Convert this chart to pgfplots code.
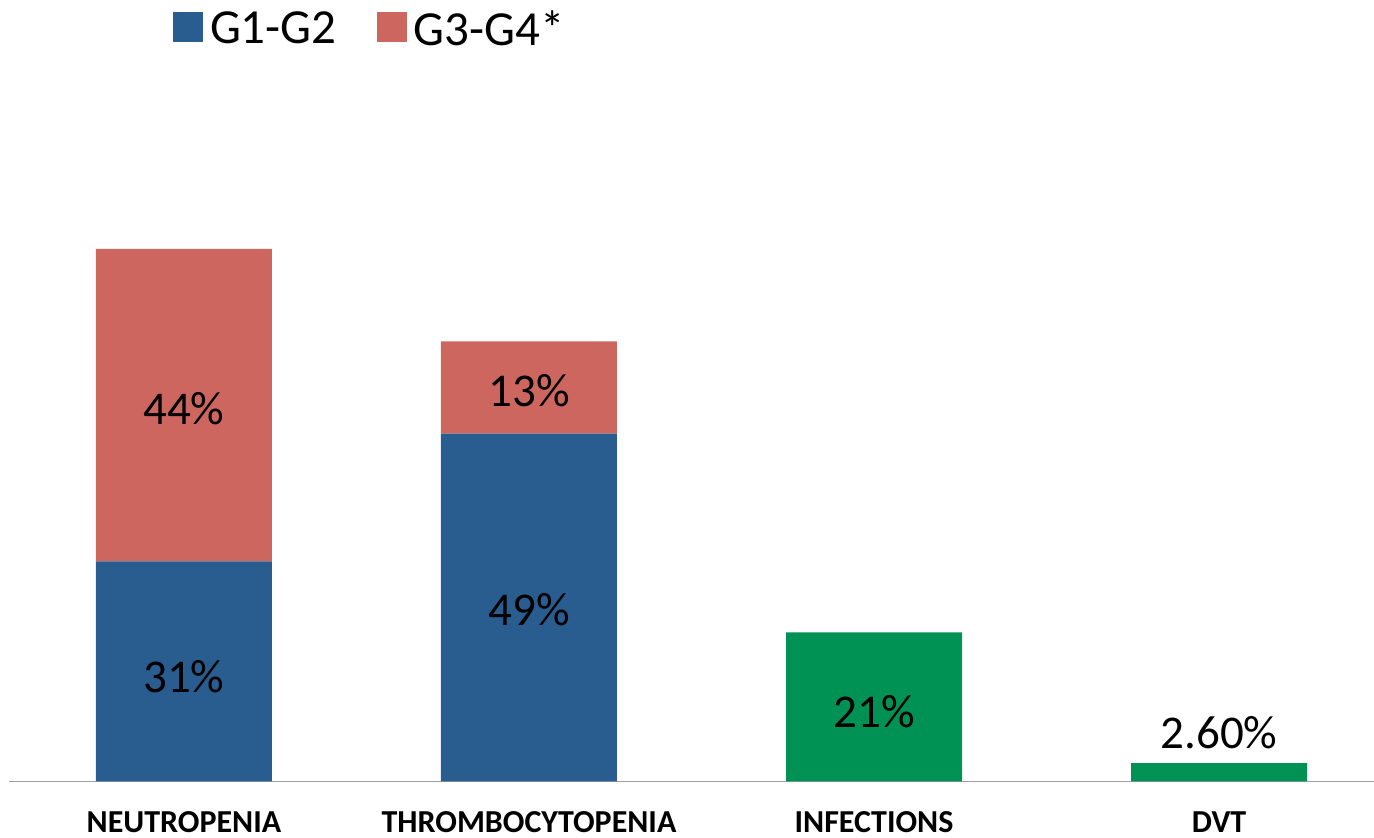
\documentclass[border=0pt]{standalone}
\usepackage{fontspec}
\setmainfont{Carlito}
\usepackage{pgfplots}
\pgfplotsset{compat=1.18}

\definecolor{gblue}{RGB}{41,92,143}
\definecolor{gred}{RGB}{205,102,95}
\definecolor{ggreen}{RGB}{0,145,84}
\definecolor{axgray}{RGB}{160,160,160}

\tikzset{vlabel/.style={font=\fontsize{23.5}{28}\selectfont, anchor=base, inner sep=0pt}}

\begin{document}
\begin{tikzpicture}
\useasboundingbox (0pt,0pt) rectangle (687pt,419pt);
\begin{axis}[
  at={(4.5pt,28.25pt)}, anchor=south west,
  scale only axis,
  width=682.5pt, height=355pt,
  xmin=-0.507, xmax=3.449,
  ymin=0, ymax=100,
  ybar stacked,
  bar width=88pt,
  axis x line*=bottom,
  axis y line=none,
  x axis line style={draw=axgray, line width=0.75pt},
  xtick={0,1,2,3},
  xticklabels={NEUTROPENIA,THROMBOCYTOPENIA,INFECTIONS,DVT},
  major tick length=0pt,
  xticklabel style={font=\fontsize{16}{19}\selectfont\bfseries, yshift=-11.5pt},
  legend columns=2,
  legend style={at={(0.1155,1.0976)}, anchor=north west, draw=none, fill=none,
    font=\fontsize{24.5}{29}\selectfont,
    /tikz/every even column/.append style={column sep=18pt}},
  legend image code/.code={\fill[#1] (0pt,-6.5pt) rectangle (15pt,8.5pt); \path (16.5pt,0pt);},
  clip=false,
  after end axis/.code={
    \node[vlabel] at (axis cs:0,12.5) {31\%};
    \node[vlabel] at (axis cs:0,50.3) {44\%};
    \node[vlabel] at (axis cs:1,22.0) {49\%};
    \node[vlabel] at (axis cs:1,52.8) {13\%};
    \node[vlabel] at (axis cs:2,7.6) {21\%};
    \node[vlabel] at (axis cs:3,4.65) {2.60\%};
  },
]
\addplot[fill=gblue, draw=none] coordinates {(0,31) (1,49) (2,0) (3,0)};
\addplot[fill=gred, draw=none] coordinates {(0,44) (1,13) (2,0) (3,0)};
\addplot[fill=ggreen, draw=none] coordinates {(0,0) (1,0) (2,21) (3,2.6)};
\legend{G1-G2,G3-G4*}
\end{axis}
\end{tikzpicture}
\end{document}
